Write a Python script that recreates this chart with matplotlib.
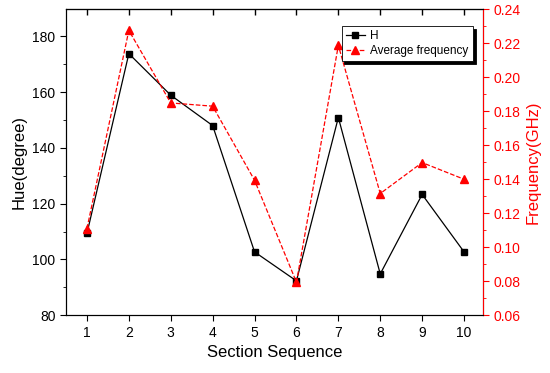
import matplotlib.pyplot as plt
from matplotlib.ticker import MultipleLocator

plt.rcParams['font.family'] = ['Liberation Sans', 'DejaVu Sans']

# Data
sections = [1, 2, 3, 4, 5, 6, 7, 8, 9, 10]
hue = [109.3, 173.8, 158.9, 148.0, 102.7, 92.3, 150.9, 94.8, 123.3, 102.7]
avg_freq = [0.111, 0.2276, 0.1849, 0.183, 0.1394, 0.0794, 0.2188, 0.1316, 0.1498, 0.140]

fig = plt.figure(figsize=(5.5, 3.73), dpi=100)
ax1 = fig.add_axes([0.12, 0.155, 0.758, 0.82])
ax2 = ax1.twinx()

l1, = ax1.plot(sections, hue, '-', color='black', linewidth=0.9,
               marker='s', markersize=5, label='H')
l2, = ax2.plot(sections, avg_freq, '--', color='red', linewidth=0.9,
               marker='^', markersize=6, label='Average frequency')

ax1.set_xlim(0.5, 10.45)
ax1.set_ylim(80, 189.7)
ax2.set_ylim(0.06, 0.24)

ax1.set_xticks(sections)
# inward ticks along the top, no labels
top = ax1.secondary_xaxis('top')
top.set_xticks(sections)
top.tick_params(axis='x', direction='in', length=4.5, width=1, labeltop=False, color='black')

ax1.yaxis.set_major_locator(MultipleLocator(20))
ax1.yaxis.set_minor_locator(MultipleLocator(10))
ax2.yaxis.set_major_locator(MultipleLocator(0.02))
ax2.yaxis.set_minor_locator(MultipleLocator(0.01))
ax2.yaxis.set_major_formatter(plt.FormatStrFormatter('%.2f'))

ax1.tick_params(axis='x', direction='out', length=4, labelsize=10)
ax1.tick_params(axis='y', which='major', direction='out', length=4, labelsize=10)
ax1.tick_params(axis='y', which='minor', direction='out', length=2.5)

ax2.tick_params(axis='y', which='major', direction='out', length=4, colors='red', labelsize=10)
ax2.tick_params(axis='y', which='minor', direction='out', length=2.5, colors='red')
ax2.spines['right'].set_color('red')

ax1.set_xlabel('Section Sequence', fontsize=12)
ax1.set_ylabel('Hue(degree)', fontsize=12)
ax2.set_ylabel('Frequency(GHz)', fontsize=12, color='red')

leg = ax2.legend(handles=[l1, l2], loc='upper right', bbox_to_anchor=(0.99, 0.965),
                 fontsize=8.5, frameon=True, fancybox=False, shadow={'color': 'black', 'alpha': 1},
                 handlelength=1.6, handletextpad=0.5, borderpad=0.35, labelspacing=0.25)
leg.get_frame().set_edgecolor('black')
leg.get_frame().set_linewidth(0.6)

plt.savefig('out.png', dpi=100)
